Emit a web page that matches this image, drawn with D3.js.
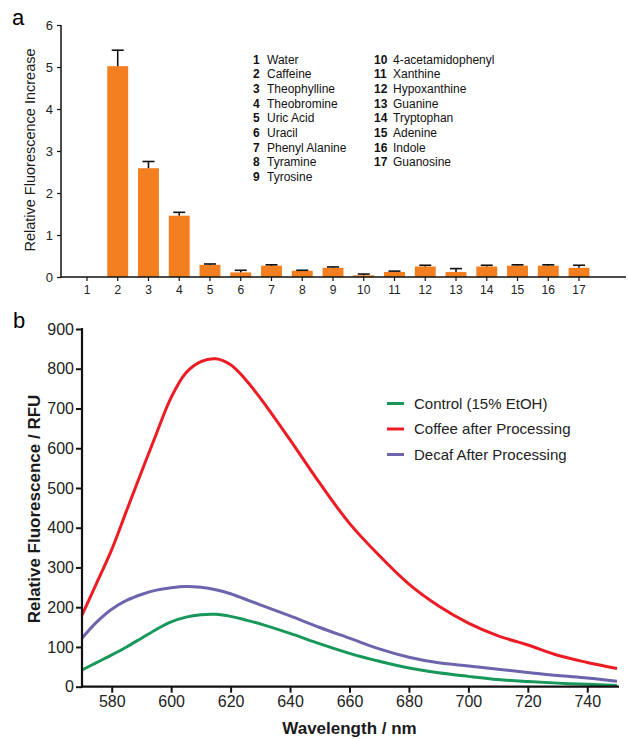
<!DOCTYPE html>
<html>
<head>
<meta charset="utf-8">
<script src="https://cdn.jsdelivr.net/npm/d3@7"></script>
<style>
  body { margin: 0; background: #fff; }
  svg { display: block; font-family: "Liberation Sans", Arial, sans-serif; }
</style>
</head>
<body>
<svg id="chart" width="628" height="739"></svg>
<script>
// Panel a: relative fluorescence increase per compound
const compoundIds = ["1", "2", "3", "4", "5", "6", "7", "8", "9", "10", "11", "12", "13", "14", "15", "16", "17"];
const compoundNames = ["Water", "Caffeine", "Theophylline", "Theobromine", "Uric Acid", "Uracil", "Phenyl Alanine",
  "Tyramine", "Tyrosine", "4-acetamidophenyl", "Xanthine", "Hypoxanthine", "Guanine", "Tryptophan", "Adenine",
  "Indole", "Guanosine"];
const increase = [0, 5.02, 2.59, 1.46, 0.29, 0.11, 0.27, 0.15, 0.22, 0.04, 0.12, 0.25, 0.12, 0.25, 0.27, 0.27, 0.22];
const increaseErr = [0, 0.38, 0.16, 0.08, 0.02, 0.05, 0.02, 0.01, 0.02, 0.03, 0.02, 0.03, 0.08, 0.03, 0.02, 0.02, 0.06];
const increaseTicks = [0, 1, 2, 3, 4, 5, 6];

// Panel b: emission spectra
const wavelength = [570, 575, 580, 585, 590, 595, 600, 605, 610, 615, 620, 625, 630,
  640, 650, 660, 670, 680, 690, 700, 710, 720, 730, 740, 750];
const control = [42, 61, 80, 100, 122, 144, 163, 175, 181, 182, 177, 168, 158,
  134, 108, 84, 64, 47, 35, 26, 18, 13, 9, 6, 3];
const coffee = [180, 262, 345, 443, 540, 636, 728, 790, 818, 825, 810, 773, 726,
  621, 512, 411, 330, 258, 203, 160, 128, 105, 79, 61, 46];
const decaf = [122, 163, 195, 217, 232, 243, 249, 252, 250, 244, 234, 220, 206,
  178, 149, 122, 95, 74, 60, 52, 44, 36, 28, 22, 14];
const seriesNames = ["Control (15% EtOH)", "Coffee after Processing", "Decaf After Processing"];
const rfuTicks = [0, 100, 200, 300, 400, 500, 600, 700, 800, 900];
const nmTicks = [580, 600, 620, 640, 660, 680, 700, 720, 740];

const svg = d3.select("#chart");

// ---------- panel a ----------
const a = { left: 61, right: 626, top: 25, bottom: 277 };

const xa = d3.scaleBand()
  .domain(compoundIds)
  .range([71.6, 594.4])
  .paddingInner(0.32)
  .paddingOuter(0.16);

const ya = d3.scaleLinear().domain([0, 6]).range([a.bottom, a.top]);

const ga = svg.append("g");

ga.append("text")
  .attr("x", 12).attr("y", 25)
  .attr("font-size", 22)
  .text("a");

ga.selectAll("rect.bar")
  .data(increase)
  .join("rect")
  .attr("class", "bar")
  .attr("x", (d, i) => xa(compoundIds[i]))
  .attr("width", xa.bandwidth())
  .attr("y", d => ya(d))
  .attr("height", d => ya(0) - ya(d))
  .attr("fill", "#f47f20");

// upper error bars only
const errG = ga.append("g").attr("stroke", "#111").attr("stroke-width", 1.6);
increase.forEach((v, i) => {
  if (!increaseErr[i]) return;
  const cx = xa(compoundIds[i]) + xa.bandwidth() / 2;
  errG.append("line")
    .attr("x1", cx).attr("x2", cx)
    .attr("y1", ya(v)).attr("y2", ya(v + increaseErr[i]));
  errG.append("line")
    .attr("x1", cx - 6).attr("x2", cx + 6)
    .attr("y1", ya(v + increaseErr[i])).attr("y2", ya(v + increaseErr[i]));
});

const yAxisA = ga.append("g")
  .attr("transform", `translate(${a.left},0)`)
  .call(d3.axisLeft(ya).tickValues(increaseTicks).tickFormat(d3.format("d")).tickSize(4).tickPadding(4));
yAxisA.select(".domain").remove();
yAxisA.selectAll(".tick line").attr("stroke", "#111").attr("stroke-width", 1.2);
yAxisA.selectAll(".tick text").attr("font-size", 13).attr("fill", "#222")
  .attr("font-family", "Liberation Sans, Arial, sans-serif");

const xAxisA = ga.append("g")
  .attr("transform", `translate(0,${a.bottom})`)
  .call(d3.axisBottom(xa).tickSize(4).tickPadding(4));
xAxisA.select(".domain").remove();
xAxisA.selectAll(".tick line").attr("stroke", "#111").attr("stroke-width", 1.2);
xAxisA.selectAll(".tick text").attr("font-size", 12).attr("fill", "#222")
  .attr("font-family", "Liberation Sans, Arial, sans-serif");

ga.append("line")
  .attr("x1", a.left).attr("x2", a.left)
  .attr("y1", a.top).attr("y2", a.bottom + 0.7)
  .attr("stroke", "#111").attr("stroke-width", 1.5);
ga.append("line")
  .attr("x1", a.left).attr("x2", a.right)
  .attr("y1", a.bottom).attr("y2", a.bottom)
  .attr("stroke", "#111").attr("stroke-width", 1.5);

ga.append("text")
  .attr("transform", `translate(35,${(a.top + a.bottom) / 2 - 1}) rotate(-90)`)
  .attr("text-anchor", "middle")
  .attr("font-size", 14.5)
  .attr("fill", "#1a1a1a")
  .text("Relative Fluorescence Increase");

// compound key, two columns
const key = ga.append("g").attr("font-size", 12).attr("fill", "#111");
compoundNames.forEach((name, i) => {
  const col = i < 9 ? 0 : 1;
  const row = col === 0 ? i : i - 9;
  const y = 63.5 + row * 14.67;
  key.append("text")
    .attr("x", col === 0 ? 253 : 374).attr("y", y)
    .attr("font-weight", "bold")
    .text(compoundIds[i]);
  key.append("text")
    .attr("x", col === 0 ? 267 : 393).attr("y", y)
    .text(name);
});

// ---------- panel b ----------
const b = { left: 82, right: 617, top: 329, bottom: 686.7 };

const xb = d3.scaleLinear().domain([570, 750]).range([b.left, b.right]);
const yb = d3.scaleLinear().domain([0, 900]).range([b.bottom, b.top]);

const gb = svg.append("g");

gb.append("text")
  .attr("x", 13).attr("y", 328)
  .attr("font-size", 22)
  .text("b");

const colors = ["#17985a", "#ed1c24", "#6c64ad"];
const series = [control, coffee, decaf];

const line = d3.line()
  .x((d, i) => xb(wavelength[i]))
  .y(d => yb(d))
  .curve(d3.curveCatmullRom.alpha(0.5));

// draw green, purple, then red on top
[0, 2, 1].forEach(k => {
  gb.append("path")
    .datum(series[k])
    .attr("d", line)
    .attr("fill", "none")
    .attr("stroke", colors[k])
    .attr("stroke-width", 3)
    .attr("stroke-linejoin", "round");
});

const yAxisB = gb.append("g")
  .attr("transform", `translate(${b.left},0)`)
  .call(d3.axisLeft(yb).tickValues(rfuTicks).tickSize(6).tickPadding(2));
yAxisB.select(".domain").remove();
yAxisB.selectAll(".tick line").attr("stroke", "#111").attr("stroke-width", 2);
yAxisB.selectAll(".tick text").attr("font-size", 16).attr("fill", "#222")
  .attr("font-family", "Liberation Sans, Arial, sans-serif");

const xAxisB = gb.append("g")
  .attr("transform", `translate(0,${b.bottom})`)
  .call(d3.axisBottom(xb).tickValues(nmTicks).tickSize(6).tickPadding(3));
xAxisB.select(".domain").remove();
xAxisB.selectAll(".tick line").attr("stroke", "#111").attr("stroke-width", 2);
xAxisB.selectAll(".tick text").attr("font-size", 16).attr("fill", "#222")
  .attr("font-family", "Liberation Sans, Arial, sans-serif");

gb.append("line")
  .attr("x1", b.left).attr("x2", b.left)
  .attr("y1", b.top - 1).attr("y2", b.bottom + 1)
  .attr("stroke", "#111").attr("stroke-width", 2.2);
gb.append("line")
  .attr("x1", b.left - 1).attr("x2", b.right + 2)
  .attr("y1", b.bottom).attr("y2", b.bottom)
  .attr("stroke", "#111").attr("stroke-width", 2.2);

gb.append("text")
  .attr("transform", `translate(40,509) rotate(-90)`)
  .attr("text-anchor", "middle")
  .attr("font-size", 17)
  .attr("font-weight", "bold")
  .attr("fill", "#1a1a1a")
  .text("Relative Fluorescence / RFU");

gb.append("text")
  .attr("x", (b.left + b.right) / 2).attr("y", 734)
  .attr("text-anchor", "middle")
  .attr("font-size", 17)
  .attr("font-weight", "bold")
  .attr("fill", "#1a1a1a")
  .text("Wavelength / nm");

// legend
seriesNames.forEach((name, k) => {
  const y = 403.5 + k * 25.5;
  gb.append("line")
    .attr("x1", 387).attr("x2", 404)
    .attr("y1", y).attr("y2", y)
    .attr("stroke", colors[k]).attr("stroke-width", 3);
  gb.append("text")
    .attr("x", 414).attr("y", y)
    .attr("dy", "0.35em")
    .attr("font-size", 15)
    .attr("fill", "#222")
    .text(name);
});
</script>
</body>
</html>
